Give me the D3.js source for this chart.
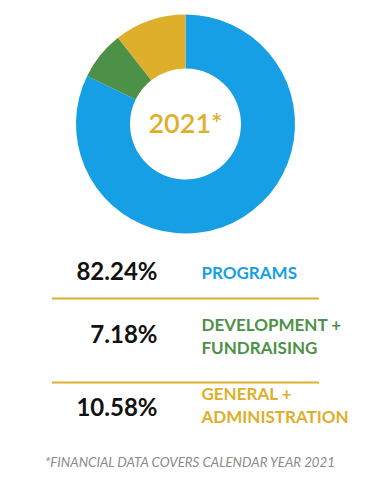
<!DOCTYPE html>
<html>
<head>
<meta charset="utf-8">
<script src="https://cdn.jsdelivr.net/npm/d3@7"></script>
<style>
  html, body { margin: 0; padding: 0; background: #fff; }
  svg { display: block; font-family: Lato, "Open Sans", sans-serif; }
</style>
</head>
<body>
<div class="chart"></div>
<script>
const categories = ['Programs', 'Development + Fundraising', 'General + Administration'];
const values = [82.24, 7.18, 10.58];
const labelLines = [['PROGRAMS'], ['DEVELOPMENT +', 'FUNDRAISING'], ['GENERAL +', 'ADMINISTRATION']];
const colors = ['#169fe5', '#4c9147', '#deaf2a'];
const centerLabel = '2021*';
const footnote = '*FINANCIAL DATA COVERS CALENDAR YEAR 2021';

const width = 372, height = 480;
const cx = 185.5, cy = 124;
const outerR = 109.5, innerR = 55.5;

const svg = d3.select('.chart').append('svg')
    .attr('width', width)
    .attr('height', height);

// donut, clockwise from 12 o'clock in data order
const pie = d3.pie().sort(null).value(d => d);
const arc = d3.arc().innerRadius(innerR).outerRadius(outerR);

const g = svg.append('g').attr('transform', 'translate(' + cx + ',' + cy + ')');
g.selectAll('path')
    .data(pie(values))
    .enter().append('path')
    .attr('d', arc)
    .attr('fill', (d, i) => colors[i]);

g.append('text')
    .attr('text-anchor', 'middle')
    .attr('dy', '0.35em')
    .attr('font-size', 27)
    .attr('font-weight', 600)
    .attr('fill', colors[2])
    .text(centerLabel);

// table of values below the donut
const rowBaseline = [280, 342.5, 415.5];
const labelTop = [278.5, 331, 400];
const rows = svg.append('g');

rows.selectAll('.pct')
    .data(values)
    .enter().append('text')
    .attr('class', 'pct')
    .attr('x', 157.5)
    .attr('y', (d, i) => rowBaseline[i])
    .attr('text-anchor', 'end')
    .attr('font-size', 24)
    .attr('font-weight', 700)
    .attr('fill', '#111')
    .text(d => d3.format('.2f')(d) + '%');

const lbl = rows.selectAll('.lbl')
    .data(labelLines)
    .enter().append('text')
    .attr('class', 'lbl')
    .attr('x', 201.5)
    .attr('y', (d, i) => labelTop[i])
    .attr('font-size', 17)
    .attr('font-weight', 700)
    .attr('fill', (d, i) => colors[i]);

lbl.selectAll('tspan')
    .data(d => d)
    .enter().append('tspan')
    .attr('x', 201.5)
    .attr('dy', (d, i) => i === 0 ? 0 : 22.5)
    .text(d => d);

// separators
rows.selectAll('.sep')
    .data([298.5, 382.5])
    .enter().append('line')
    .attr('class', 'sep')
    .attr('x1', 52)
    .attr('x2', 319)
    .attr('y1', d => d)
    .attr('y2', d => d)
    .attr('stroke', colors[2])
    .attr('stroke-width', 2);

svg.append('text')
    .attr('x', 190)
    .attr('y', 466.5)
    .attr('text-anchor', 'middle')
    .attr('font-size', 13.3)
    .attr('font-style', 'italic')
    .attr('font-weight', 400)
    .attr('fill', '#8a8a8a')
    .text(footnote);
</script>
</body>
</html>
